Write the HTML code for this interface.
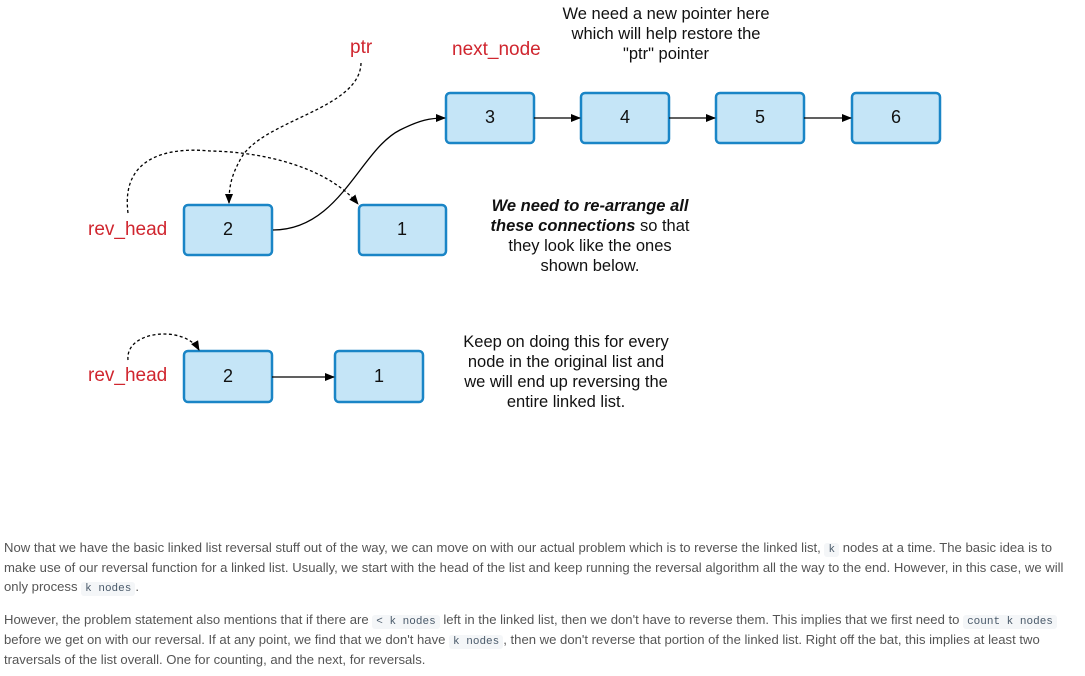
<!DOCTYPE html>
<html><head><meta charset="utf-8"><style>
body{margin:0;width:1085px;height:676px;background:#fff;overflow:hidden;position:relative;font-family:"Liberation Sans",sans-serif}
.l{position:absolute;left:4px;white-space:nowrap;font-size:13.1px;color:#555;line-height:20px}
code{font-family:"Liberation Mono",monospace;font-size:11px;background:#f4f6f8;color:#4a5a6a;padding:1px 4px;border-radius:3px}
</style></head><body>
<svg width="1085" height="530" style="position:absolute;left:0;top:0" font-family="Liberation Sans, sans-serif">
<defs><marker id="a" markerWidth="10" markerHeight="8" refX="9" refY="4" orient="auto" markerUnits="userSpaceOnUse"><path d="M0,0 L10,4 L0,8z" fill="#000"/></marker></defs>
<g fill="#c5e5f7" stroke="#1a85c6" stroke-width="2.5">
<rect x="446" y="93" width="88" height="50" rx="4"/>
<rect x="581" y="93" width="88" height="50" rx="4"/>
<rect x="716" y="93" width="88" height="50" rx="4"/>
<rect x="852" y="93" width="88" height="50" rx="4"/>
<rect x="184" y="205" width="88" height="50" rx="4"/>
<rect x="359" y="205" width="87" height="50" rx="4"/>
<rect x="184" y="351" width="88" height="51" rx="4"/>
<rect x="335" y="351" width="88" height="51" rx="4"/>
</g>
<g font-size="18" text-anchor="middle" fill="#111">
<text x="490" y="123">3</text><text x="625" y="123">4</text><text x="760" y="123">5</text><text x="896" y="123">6</text>
<text x="228" y="235">2</text><text x="402" y="235">1</text>
<text x="228" y="382">2</text><text x="379" y="382">1</text>
</g>
<g stroke="#000" stroke-width="1.3" fill="none">
<path d="M534 118 H580" marker-end="url(#a)"/>
<path d="M669 118 H715" marker-end="url(#a)"/>
<path d="M804 118 H851" marker-end="url(#a)"/>
<path d="M272 377 H334" marker-end="url(#a)"/>
<path d="M273 230 C340 230 360 150 400 130 C420 120 430 118 445 118" marker-end="url(#a)"/>
<g stroke-dasharray="3,2.5">
<path d="M361 63 C360 110 260 120 240 160 C232 175 229 185 229 203" marker-end="url(#a)"/>
<path d="M128 213 C120 150 180 148 210 151 C270 152 330 170 358 204" marker-end="url(#a)"/>
<path d="M128 360 C125 330 185 325 199 350" marker-end="url(#a)"/>
</g>
</g>
<g fill="#d0262f" font-size="19">
<text x="350" y="53">ptr</text>
<text x="452" y="55">next_node</text>
<text x="88" y="235">rev_head</text>
<text x="88" y="381">rev_head</text>
</g>
<g font-size="16.5" text-anchor="middle" fill="#111">
<text x="666" y="19">We need a new pointer here</text>
<text x="666" y="39">which will help restore the</text>
<text x="666" y="59">"ptr" pointer</text>
<text x="590" y="211" font-weight="bold" font-style="italic">We need to re-arrange all</text>
<text x="590" y="231"><tspan font-weight="bold" font-style="italic">these connections</tspan> so that</text>
<text x="590" y="251">they look like the ones</text>
<text x="590" y="271">shown below.</text>
<text x="566" y="347">Keep on doing this for every</text>
<text x="566" y="367">node in the original list and</text>
<text x="566" y="387">we will end up reversing the</text>
<text x="566" y="407">entire linked list.</text>
</g>
</svg>
<div class="l" style="top:538px">Now that we have the basic linked list reversal stuff out of the way, we can move on with our actual problem which is to reverse the linked list, <code>k</code> nodes at a time. The basic idea is to</div>
<div class="l" style="top:558px">make use of our reversal function for a linked list. Usually, we start with the head of the list and keep running the reversal algorithm all the way to the end. However, in this case, we will</div>
<div class="l" style="top:577px">only process <code>k nodes</code>.</div>
<div class="l" style="top:610px">However, the problem statement also mentions that if there are <code>&lt; k nodes</code> left in the linked list, then we don't have to reverse them. This implies that we first need to <code>count k nodes</code></div>
<div class="l" style="top:630px">before we get on with our reversal. If at any point, we find that we don't have <code>k nodes</code>, then we don't reverse that portion of the linked list. Right off the bat, this implies at least two</div>
<div class="l" style="top:650px">traversals of the list overall. One for counting, and the next, for reversals.</div>
</body></html>
